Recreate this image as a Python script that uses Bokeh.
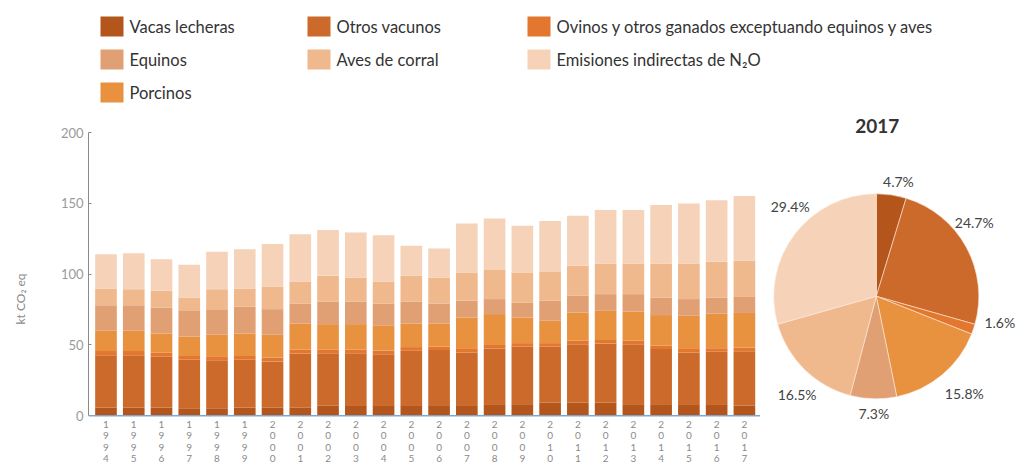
import math
from bokeh.plotting import figure
from bokeh.models import Range1d, FixedTicker, ColumnDataSource, Span
from bokeh.layouts import column, row
from bokeh.embed import file_html
from bokeh.resources import INLINE
from bokeh.core.properties import value

# ---------------- data ----------------
years = list(range(1994, 2018))
vacas_lecheras = [5.9, 5.9, 5.9, 5.4, 5.4, 5.9, 5.9, 5.9, 7.1, 7.5, 7.5, 7.5, 7.5, 7.5, 8.2, 8.2, 9.4, 9.4, 9.4, 8.2, 8.2, 8.2, 8.2, 7.3]
otros_vacunos = [36.9, 36.9, 35.7, 34.1, 33.9, 33.6, 32.5, 38.1, 37.1, 36.7, 36.0, 38.4, 38.9, 37.2, 39.3, 40.7, 39.5, 41.2, 41.7, 42.4, 38.9, 36.5, 37.0, 38.3]
ovinos = [3.0, 3.0, 2.9, 2.8, 2.8, 2.8, 2.7, 2.7, 2.7, 2.6, 2.6, 2.6, 2.5, 2.5, 2.5, 2.4, 2.4, 2.4, 2.4, 2.4, 2.4, 2.5, 2.5, 2.5]
porcinos = [14.2, 14.2, 13.6, 13.7, 15.1, 15.8, 16.1, 18.5, 17.8, 17.9, 17.4, 16.7, 16.3, 22.2, 21.8, 18.1, 15.8, 19.9, 20.6, 20.6, 21.6, 23.4, 24.5, 24.5]
equinos = [18.1, 18.1, 18.4, 18.6, 18.1, 18.8, 18.1, 14.1, 16.0, 16.0, 15.8, 15.5, 14.1, 11.8, 10.6, 10.6, 14.1, 11.8, 11.8, 12.3, 12.4, 11.8, 11.3, 11.3]
aves_corral = [11.8, 11.3, 11.7, 8.9, 14.1, 13.0, 16.0, 15.5, 18.1, 16.9, 15.5, 18.1, 18.3, 20.0, 20.6, 21.2, 20.4, 21.2, 21.6, 21.6, 24.0, 25.1, 25.2, 25.6]
emisiones_n2o = [24.2, 25.4, 22.4, 23.1, 26.4, 27.7, 29.9, 33.4, 32.3, 31.8, 32.7, 21.2, 20.5, 34.6, 36.3, 32.9, 36.0, 35.3, 37.7, 37.7, 41.4, 42.4, 43.5, 45.6]

series_names = [
    "Vacas lecheras",
    "Otros vacunos",
    "Ovinos y otros ganados exceptuando equinos y aves",
    "Porcinos",
    "Equinos",
    "Aves de corral",
    "Emisiones indirectas de N\u2082O",
]
y_ticks = [0, 50, 100, 150, 200]
y_label = "kt CO\u2082 eq"

pie_title = "2017"
pie_pct = [4.7, 24.7, 1.6, 15.8, 7.3, 16.5, 29.4]

# ---------------- style ----------------
colors = ["#b4561b", "#cc6a2b", "#e4772f", "#e8913e", "#e0a073", "#efb88d", "#f6d3b8"]
FONT = "Lato"
legend_order = [0, 1, 2, 4, 5, 6, 3]          # row-major placement in the legend
legend_col_x = [100, 307, 527]
legend_row_y = [80, 47, 14]
# small label nudges (px) for pie labels, as in the original layout
pie_label_nudge = [(4, -7), (-10, 15), (7, 13), (9, -3), (1, 6), (7, -10), (12, 16)]

W_TOTAL = 1017
LEG_H = 106
MAIN_H = 359
BAR_W = 760
TOP_BORDER = 26
PLOT_PX_200 = 283.3            # pixel height of the 0..200 value span
Y_MAX = 200
Y_MIN = Y_MAX - (MAIN_H - TOP_BORDER) * Y_MAX / PLOT_PX_200   # room for year labels below 0

# ---------------- legend ----------------
leg = figure(width=W_TOTAL, height=LEG_H, x_range=Range1d(0, W_TOTAL), y_range=Range1d(0, LEG_H),
             x_axis_type=None, y_axis_type=None, toolbar_location=None, output_backend="svg",
             min_border=0, outline_line_color=None)
leg.frame_align = False
leg.grid.visible = False
lx, ly, lc, lt, tx = [], [], [], [], []
for k, idx in enumerate(legend_order):
    r, c = divmod(k, 3)
    lx.append(legend_col_x[c] + 11.5)
    tx.append(legend_col_x[c] + 29)
    ly.append(legend_row_y[r])
    lc.append(colors[idx])
    lt.append(series_names[idx])
lsrc = ColumnDataSource(dict(x=lx, tx=tx, y=ly, c=lc, t=lt))
leg.rect(x="x", y="y", width=23, height=20, fill_color="c", line_color=None, source=lsrc)
leg.text(x="tx", y="y", text="t", source=lsrc, text_font=value(FONT), text_font_size="16.5px",
         text_color="#333333", text_baseline="middle", text_align="left")

# ---------------- stacked bars ----------------
keys = ["vacas", "otros", "ovinos", "porcinos", "equinos", "aves", "n2o"]
src = ColumnDataSource(dict(year=years, vacas=vacas_lecheras, otros=otros_vacunos, ovinos=ovinos,
                            porcinos=porcinos, equinos=equinos, aves=aves_corral, n2o=emisiones_n2o))
p = figure(width=BAR_W, height=MAIN_H, x_range=Range1d(1993.37, 2017.58), y_range=Range1d(Y_MIN, Y_MAX),
           toolbar_location=None, output_backend="svg", x_axis_location=None,
           min_border_left=88, min_border_right=0, min_border_top=TOP_BORDER, min_border_bottom=0,
           outline_line_color=None)
p.frame_align = False
p.vbar_stack(keys, x="year", width=0.78, color=colors, line_color=None, source=src)
p.grid.visible = False

p.yaxis.bounds = (0, Y_MAX)
p.yaxis.ticker = FixedTicker(ticks=y_ticks)
p.yaxis.axis_label = y_label
p.yaxis.axis_label_text_font = FONT
p.yaxis.axis_label_text_font_style = "normal"
p.yaxis.axis_label_text_font_size = "12px"
p.yaxis.axis_label_text_color = "#8a8a8a"
p.yaxis.axis_label_standoff = 30
p.yaxis.major_label_text_font = FONT
p.yaxis.major_label_text_font_size = "13px"
p.yaxis.major_label_text_color = "#9a9a9a"
p.yaxis.axis_line_color = "#8a8a8a"
p.yaxis.major_tick_line_color = "#8a8a8a"
p.yaxis.major_tick_in = 3
p.yaxis.major_tick_out = 0
p.yaxis.minor_tick_line_color = None
p.yaxis.major_label_standoff = 5

# baseline (x axis line)
p.add_layout(Span(location=0, dimension="width", line_color="#7ea6d3", line_width=1.5))

# vertical (stacked-digit) year labels under the bars
p.text(x=years, y=[0] * len(years), text=["\n".join(str(y)) for y in years], y_offset=2,
       text_align="center", text_baseline="top", text_font=value(FONT), text_font_size="10px",
       text_line_height=0.95, text_color="#8a8a8a")

# ---------------- pie ----------------
PW = W_TOTAL - BAR_W
pf = figure(width=PW, height=MAIN_H, x_range=Range1d(0, PW), y_range=Range1d(0, MAIN_H),
            x_axis_type=None, y_axis_type=None, toolbar_location=None, output_backend="svg",
            min_border=0, outline_line_color=None)
pf.frame_align = False
pf.grid.visible = False
cx, cy, R = 115.8, 169.2, 102.5
tot = sum(pie_pct)
starts, ends, mids = [], [], []
acc = 0.0
for v in pie_pct:
    a0 = math.pi / 2 - 2 * math.pi * acc / tot
    acc += v
    a1 = math.pi / 2 - 2 * math.pi * acc / tot
    starts.append(a0)
    ends.append(a1)
    mids.append((a0 + a1) / 2)
psrc = ColumnDataSource(dict(s=starts, e=ends, c=colors))
pf.wedge(x=cx, y=cy, radius=R, start_angle="s", end_angle="e", direction="clock",
         fill_color="c", line_color="#fbe9dc", line_width=0.6, source=psrc)
lab_x = [cx + 1.2 * R * math.cos(m) + n[0] for m, n in zip(mids, pie_label_nudge)]
lab_y = [cy + 1.2 * R * math.sin(m) + n[1] for m, n in zip(mids, pie_label_nudge)]
lab_t = [f"{v}%" for v in pie_pct]
pf.text(x=lab_x, y=lab_y, text=lab_t, text_font=value(FONT), text_font_size="14px",
        text_color="#444444", text_align="center", text_baseline="middle")
pf.text(x=[cx + 1], y=[MAIN_H - (125 - LEG_H)], text=[pie_title], text_font=value(FONT),
        text_font_size="19px", text_font_style="bold", text_color="#333333",
        text_align="center", text_baseline="middle")

layout = column(leg, row(p, pf, spacing=0), spacing=0)
open("out.html", "w").write(file_html(layout, INLINE))
